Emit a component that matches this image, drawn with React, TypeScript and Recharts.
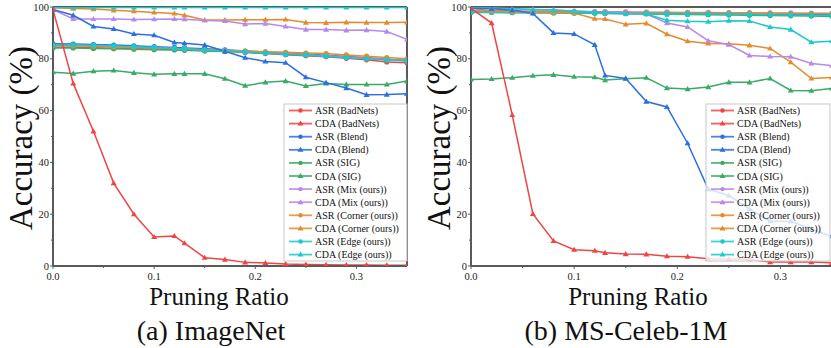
import React from 'react';
import { LineChart, Line, XAxis, YAxis, ReferenceLine } from 'recharts';

const ratios = [0, 0.02, 0.04, 0.06, 0.08, 0.1, 0.12, 0.13, 0.15, 0.17, 0.19, 0.21, 0.23, 0.25, 0.27, 0.29, 0.31, 0.33, 0.35];
const xTicks = [0, 0.05, 0.1, 0.15, 0.2, 0.25, 0.3];
const yTicks = [0, 10, 20, 30, 40, 50, 60, 70, 80, 90, 100];

// (a) ImageNet
const inAsrBadNets = [99, 70.5, 52, 32, 20, 11.2, 11.6, 8.8, 3.2, 2.5, 1.4, 1.2, 0.8, 0.6, 0.5, 0.4, 0.4, 0.3, 0.3];
const inCdaBadNets = [84.5, 84.5, 84.3, 84.1, 84, 83.8, 83.6, 83.4, 83.2, 83, 82.5, 82, 81.6, 81.2, 80.8, 80.2, 79.6, 78.8, 78.5];
const inAsrBlend = [99, 96.8, 92.5, 91.5, 89.6, 89.1, 86.3, 86, 85.3, 82.9, 80.4, 79, 78.5, 72.9, 70.8, 68.7, 66.1, 66.2, 66.5];
const inCdaBlend = [85.8, 85.7, 85.5, 85.3, 85, 84.7, 84.4, 84.2, 83.9, 83.5, 83, 82.6, 82.2, 81.8, 81.4, 80.9, 80.4, 79.8, 79.3];
const inAsrSig = [74.8, 74.3, 75.2, 75.5, 74.6, 74, 74.2, 74.2, 74.2, 72.3, 69.6, 70.9, 71.4, 69.5, 70.5, 70.1, 70.1, 70.1, 71.4];
const inCdaSig = [84.2, 84.2, 84, 83.9, 83.7, 83.5, 83.4, 83.3, 83, 82.8, 82.5, 82.1, 81.8, 81.4, 81, 80.6, 80.2, 79.6, 79.2];
const inAsrMix = [99, 95.4, 95.4, 95.4, 95.2, 95.3, 95.4, 95.3, 94.8, 94.6, 93.4, 93.6, 92.5, 91.3, 91.3, 91, 91.1, 90.5, 87.5];
const inCdaMix = [85, 85, 84.9, 84.7, 84.5, 84.3, 84, 83.8, 83.5, 83.2, 82.8, 82.4, 82, 81.6, 81.2, 80.7, 80.2, 79.7, 79.2];
const inAsrCorner = [99.7, 99.4, 99.2, 98.7, 98.4, 97.9, 97.5, 96.8, 95, 95, 95.1, 95.1, 95.2, 94, 93.9, 94.1, 94, 94, 94.1];
const inCdaCorner = [85, 85, 84.8, 84.6, 84.4, 84.2, 84, 83.8, 83.5, 83.2, 83, 82.7, 82.5, 82.2, 82, 81.5, 81, 80.5, 80];
const inAsrEdge = [99.8, 99.8, 99.8, 99.8, 99.8, 99.8, 99.8, 99.8, 99.8, 99.8, 99.8, 99.8, 99.8, 99.8, 99.8, 99.8, 99.8, 99.8, 99.8];
const inCdaEdge = [85.3, 85.4, 85.2, 85, 84.7, 84.4, 84, 83.8, 83.4, 83, 82.6, 82.2, 81.8, 81.5, 81, 80.5, 80, 79.5, 79.2];

// (b) MS-Celeb-1M
const msAsrBadNets = [99.5, 93.8, 58.3, 20.1, 9.7, 6.3, 5.9, 5.1, 4.6, 4.5, 3.8, 3.6, 2.8, 2.7, 2.6, 1.5, 1.5, 1.5, 1.2];
const msCdaBadNets = [98.3, 98.2, 98.2, 98.1, 98, 98, 97.9, 97.9, 97.8, 97.8, 97.7, 97.6, 97.5, 97.4, 97.3, 97.2, 97.1, 97, 96.9];
const msAsrBlend = [99.5, 99.3, 98.8, 97.5, 90, 89.6, 85.4, 73.6, 72.4, 63.5, 61.4, 47.4, 29.7, 27.2, 22, 17.3, 17.3, 14.3, 11.4];
const msCdaBlend = [98.5, 98.4, 98.3, 98.3, 98.2, 98.1, 98, 98, 97.9, 97.8, 97.8, 97.7, 97.6, 97.5, 97.4, 97.3, 97.2, 97.1, 97];
const msAsrSig = [72, 72.2, 72.7, 73.5, 73.8, 73.1, 72.9, 71.8, 72.3, 72.7, 68.7, 68.3, 69.1, 70.9, 70.9, 72.4, 67.8, 67.7, 68.6];
const msCdaSig = [97.9, 97.9, 97.8, 97.8, 97.7, 97.6, 97.6, 97.5, 97.4, 97.3, 97.2, 97.1, 97, 96.9, 96.8, 96.7, 96.6, 96.5, 96.3];
const msAsrMix = [99.7, 99.5, 99.3, 99, 98.8, 98.5, 98.2, 98, 97.7, 97.3, 93.8, 92.3, 87, 85.5, 81.3, 80.9, 80.8, 78.2, 77.4];
const msCdaMix = [98.6, 98.5, 98.5, 98.4, 98.4, 98.3, 98.2, 98.2, 98.1, 98, 98, 97.9, 97.9, 97.8, 97.8, 97.7, 97.7, 97.6, 97.6];
const msAsrCorner = [99.5, 98.5, 98.2, 98, 97.9, 97.7, 95.5, 95.4, 93.3, 93.7, 89.5, 86.8, 85.9, 85.8, 85.2, 84, 78.7, 72.4, 72.8];
const msCdaCorner = [98.4, 98.3, 98.3, 98.2, 98.1, 98.1, 98, 98, 97.9, 97.9, 97.8, 97.8, 97.7, 97.7, 97.6, 97.6, 97.5, 97.5, 97.4];
const msAsrEdge = [99.7, 99.5, 99.3, 99, 98.8, 98.4, 98, 97.8, 97.4, 97.3, 94.9, 94.5, 94.3, 94.7, 94.6, 92.3, 91.3, 86.4, 86.8];
const msCdaEdge = [98, 98, 97.9, 97.9, 97.8, 97.8, 97.7, 97.6, 97.5, 97.5, 97.4, 97.3, 97.3, 97.2, 97.1, 97, 96.9, 96.8, 96.7];

const seriesNames = ['ASR (BadNets)', 'CDA (BadNets)', 'ASR (Blend)', 'CDA (Blend)', 'ASR (SIG)', 'CDA (SIG)', 'ASR (Mix (ours))', 'CDA (Mix (ours))', 'ASR (Corner (ours))', 'CDA (Corner (ours))', 'ASR (Edge (ours))', 'CDA (Edge (ours))'];
const seriesKeys = ['asrBadNets', 'cdaBadNets', 'asrBlend', 'cdaBlend', 'asrSig', 'cdaSig', 'asrMix', 'cdaMix', 'asrCorner', 'cdaCorner', 'asrEdge', 'cdaEdge'];
const seriesColors = ['#f04545', '#f04545', '#2b6fe0', '#2b6fe0', '#3aaa66', '#3aaa66', '#b988ec', '#b988ec', '#e38b2d', '#e38b2d', '#19c9cc', '#19c9cc'];

const imagenetSeries = [inAsrBadNets, inCdaBadNets, inAsrBlend, inCdaBlend, inAsrSig, inCdaSig, inAsrMix, inCdaMix, inAsrCorner, inCdaCorner, inAsrEdge, inCdaEdge];
const msCelebSeries = [msAsrBadNets, msCdaBadNets, msAsrBlend, msCdaBlend, msAsrSig, msCdaSig, msAsrMix, msCdaMix, msAsrCorner, msCdaCorner, msAsrEdge, msCdaEdge];

const buildRows = (series: number[][]) =>
  ratios.map((r, i) => {
    const row: Record<string, number> = { ratio: r };
    seriesKeys.forEach((k, j) => { row[k] = series[j][i]; });
    return row;
  });

const imagenetRows = buildRows(imagenetSeries);
const msCelebRows = buildRows(msCelebSeries);

const FONT = 'Liberation Serif, Times New Roman, Times, DejaVu Serif, serif';
const AXIS = '#5a5a5a';

// draw order: CDA first, then ASR
const drawOrder = [1, 3, 5, 7, 9, 11, 4, 8, 6, 10, 2, 0];

const makeDot = (shape: string, color: string) => (props: any) => {
  const { cx, cy, index } = props;
  if (cx == null || cy == null) return <g key={`d${index}`} />;
  if (shape === 'tri') {
    const s = 3;
    return (
      <polygon key={`d${index}`} points={`${cx},${cy - s} ${cx - s},${cy + s * 0.7} ${cx + s},${cy + s * 0.7}`} fill={color} />
    );
  }
  return <circle key={`d${index}`} cx={cx} cy={cy} r={2.6} fill={color} />;
};

const textStyle = { fontFamily: FONT };

const YTick = (props: any) => {
  const { x, y, payload } = props;
  const v = payload.value;
  const major = v % 20 === 0;
  return (
    <g>
      <line x1={x - (major ? 3 : 2)} x2={x} y1={y} y2={y} stroke={AXIS} strokeWidth={1} />
      {major && (
        <text x={x - 4} y={y} dy="0.35em" textAnchor="end" style={textStyle} fontSize={10.5} fill="#222">{v}</text>
      )}
    </g>
  );
};

const XTick = (props: any) => {
  const { x, y, payload } = props;
  const v = payload.value;
  const major = Math.abs(v * 10 - Math.round(v * 10)) < 1e-6;
  return (
    <g>
      <line x1={x} x2={x} y1={y} y2={y + (major ? 3 : 2)} stroke={AXIS} strokeWidth={1} />
      {major && (
        <text x={x} y={y + 14} textAnchor="middle" style={textStyle} fontSize={10.5} fill="#222">{v.toFixed(1)}</text>
      )}
    </g>
  );
};

function Panel({ rows, left, marginRight }: { rows: any[]; left: number; marginRight: number }) {
  return (
    <div style={{ position: 'absolute', left, top: 0 }}>
      <LineChart width={420} height={348} data={rows} margin={{ top: 7, right: marginRight, bottom: 52, left: 0 }}>
        <XAxis
          dataKey="ratio"
          type="number"
          domain={[0, 0.35]}
          ticks={xTicks}
          interval={0}
          height={30}
          tickSize={0}
          tickMargin={0}
          tickLine={false}
          tick={<XTick />}
          axisLine={{ stroke: AXIS, strokeWidth: 2 }}
          allowDataOverflow
        />
        <YAxis
          type="number"
          domain={[0, 100]}
          ticks={yTicks}
          interval={0}
          width={53}
          tickSize={0}
          tickMargin={0}
          tickLine={false}
          tick={<YTick />}
          axisLine={{ stroke: AXIS, strokeWidth: 2 }}
          allowDataOverflow
        />
        <ReferenceLine y={100} stroke={AXIS} strokeWidth={2} />
        <ReferenceLine x={0.35} stroke={AXIS} strokeWidth={2} />
        {drawOrder.map((j) => {
          const shape = j % 2 === 0 ? 'tri' : 'circle';
          return (
            <Line
              key={seriesKeys[j]}
              dataKey={seriesKeys[j]}
              name={seriesNames[j]}
              stroke={seriesColors[j]}
              strokeWidth={1.5}
              dot={makeDot(shape, seriesColors[j])}
              activeDot={false}
              isAnimationActive={false}
            />
          );
        })}
      </LineChart>
    </div>
  );
}

function LegendBox({ x, y, w, h }: { x: number; y: number; w: number; h: number }) {
  return (
    <g>
      <rect x={x} y={y} width={w} height={h} fill="rgba(255,255,255,0.8)" stroke="#c8c8c8" strokeWidth={1} />
      {seriesNames.map((name, i) => {
        const cy = y + 6.5 + i * 13.1;
        const c = seriesColors[i];
        const asr = i % 2 === 0;
        return (
          <g key={name}>
            <line x1={x + 5} x2={x + 28} y1={cy} y2={cy} stroke={c} strokeWidth={1.8} opacity={0.85} />
            {asr ? (
              <circle cx={x + 16.5} cy={cy} r={2.2} fill={c} />
            ) : (
              <polygon points={`${x + 16.5},${cy - 3} ${x + 13.5},${cy + 2} ${x + 19.5},${cy + 2}`} fill={c} />
            )}
            <text x={x + 31} y={cy} dy="0.35em" style={textStyle} fontSize={10} fill="#111">{name}</text>
          </g>
        );
      })}
    </g>
  );
}

export default function App() {
  return (
    <div style={{ position: 'absolute', left: 0, top: 0, width: 831, height: 348, overflow: 'hidden', background: '#fff', fontFamily: FONT }}>
      <Panel rows={imagenetRows} left={0} marginRight={13} />
      <Panel rows={msCelebRows} left={418} marginRight={6} />
      <svg width={831} height={348} style={{ position: 'absolute', left: 0, top: 0, pointerEvents: 'none' }}>
        <LegendBox x={284} y={104} w={123} h={157} />
        <LegendBox x={706} y={104} w={124} h={157} />
        <text x={0} y={0} transform="translate(21,138) rotate(-90)" textAnchor="middle" dominantBaseline="central" style={textStyle} fontSize={33} fill="#111">Accuracy (%)</text>
        <text x={0} y={0} transform="translate(439,138) rotate(-90)" textAnchor="middle" dominantBaseline="central" style={textStyle} fontSize={33} fill="#111">Accuracy (%)</text>
        <text x={219} y={305} textAnchor="middle" style={textStyle} fontSize={25} fill="#111">Pruning Ratio</text>
        <text x={638} y={305} textAnchor="middle" style={textStyle} fontSize={25} fill="#111">Pruning Ratio</text>
        <text x={211} y={340} textAnchor="middle" style={textStyle} fontSize={28} fill="#111">(a) ImageNet</text>
        <text x={626} y={340} textAnchor="middle" style={textStyle} fontSize={28} fill="#111">(b) MS-Celeb-1M</text>
      </svg>
    </div>
  );
}
